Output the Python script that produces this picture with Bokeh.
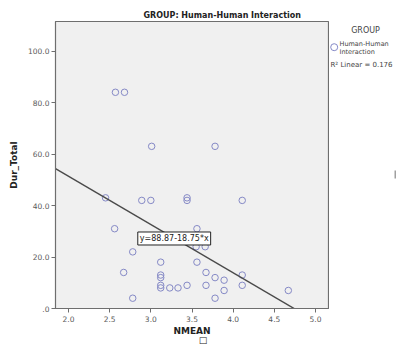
from bokeh.plotting import figure
from bokeh.models import Label, FixedTicker
from bokeh.layouts import row
from bokeh.embed import file_html
from bokeh.resources import INLINE

# ---- data ----
nmean = [2.57, 2.68, 3.01, 3.78, 2.45, 2.89, 3.00, 3.44, 3.44, 2.56,
         2.78, 2.67, 2.78, 3.12, 3.12, 3.12, 3.12, 3.12, 3.23, 3.33,
         3.44, 3.56, 3.56, 4.11, 3.55, 3.66, 3.67, 3.78, 3.89, 4.11,
         3.67, 3.89, 4.11, 3.78, 4.67]
dur_total = [84, 84, 63, 63, 43, 42, 42, 43, 42, 31,
             22, 14, 4, 18, 13, 12, 9, 8, 8, 8,
             9, 31, 18, 42, 24, 24, 14, 12, 11, 13,
             9, 7, 9, 4, 7]
intercept = 88.87
slope = -18.75
r2_linear = 0.176
x_ticks = [2.0, 2.5, 3.0, 3.5, 4.0, 4.5, 5.0]
y_ticks = [0, 20, 40, 60, 80, 100]
group_name = "Human-Human Interaction"
legend_title = "GROUP"

FONT = "DejaVu Sans"
PT_COLOR = "#8589c6"
X0, X1 = 1.842, 5.158
Y0, Y1 = 0, 111.5
TOP, BOTTOM = 21, 40

# ---------------- main plot ----------------
p = figure(width=329, height=348, x_range=(X0, X1), y_range=(Y0, Y1),
           output_backend="svg", toolbar_location=None,
           min_border_left=55, min_border_right=1,
           min_border_top=TOP, min_border_bottom=BOTTOM)
p.background_fill_color = "#f0f0f0"
p.border_fill_color = "white"
p.outline_line_color = "#6e6e6e"
p.outline_line_width = 1.2
p.xgrid.visible = False
p.ygrid.visible = False

p.title.text = "GROUP: " + group_name
p.title.text_font = FONT
p.title.text_font_size = "8px"
p.title.text_font_style = "bold"
p.title.text_color = "#222222"
p.title.align = "left"
p.title.offset = 88
p.title.standoff = 3

for ax in (p.xaxis[0], p.yaxis[0]):
    ax.axis_line_color = "#6e6e6e"
    ax.major_tick_line_color = "#6e6e6e"
    ax.major_tick_out = 4
    ax.major_tick_in = 0
    ax.minor_tick_line_color = None
    ax.major_label_text_font = FONT
    ax.major_label_text_font_size = "7.5px"
    ax.major_label_text_color = "#5a5a5a"
    ax.axis_label_text_font = FONT
    ax.axis_label_text_font_style = "bold"
    ax.axis_label_text_font_size = "9px"
    ax.axis_label_text_color = "#222222"

p.xaxis.ticker = FixedTicker(ticks=x_ticks)
p.xaxis.major_label_overrides = {t: f"{t:.1f}" for t in x_ticks}
# the second line carries the small square shown under the label
p.xaxis.axis_label = "NMEAN\n" + "\u00a0" * 7 + "\u25a1"
p.xaxis.axis_label_text_line_height = 0.95
p.xaxis.major_label_standoff = 3
p.xaxis.axis_label_standoff = 1

p.yaxis.ticker = FixedTicker(ticks=y_ticks)
p.yaxis.major_label_overrides = {t: (f"{t:.1f}" if t != 0 else ".0") for t in y_ticks}
p.yaxis.axis_label = "Dur_Total"
p.yaxis.major_label_standoff = 2
p.yaxis.axis_label_standoff = 6

p.scatter(nmean, dur_total, marker="circle", size=6.5,
          fill_color=None, line_color=PT_COLOR, line_width=1)

fx = [X0, X1]
fy = [intercept + slope * v for v in fx]
p.line(fx, fy, line_color="#4a4a4a", line_width=1.4)

eq_text = f"y={intercept:.2f}{slope:+.2f}*x"
p.add_layout(Label(x=3.284, y=27.2, text=eq_text,
                   text_font=FONT, text_font_size="8px", text_color="#222222",
                   text_align="center", text_baseline="middle",
                   background_fill_color="white", border_line_color="#222222",
                   border_line_width=1, padding=2))

# ---------------- legend panel (right) ----------------
# its frame lines up with the main frame; coordinates are page pixels
W2 = 396 - 329
q = figure(width=W2, height=348, x_range=(-1, W2 - 1),
           y_range=(348 - BOTTOM, TOP),
           output_backend="svg", toolbar_location=None,
           min_border_left=0, min_border_right=0,
           min_border_top=TOP, min_border_bottom=BOTTOM,
           outline_line_color=None, x_axis_type=None, y_axis_type=None)
q.grid.visible = False
q.background_fill_color = "white"
q.border_fill_color = "white"

q.add_layout(Label(x=35, y=30, text=legend_title, text_font=FONT,
                   text_font_size="8px", text_color="#444444",
                   text_align="center", text_baseline="middle"))
q.scatter([3.7], [46.7], marker="circle", size=7, fill_color=None,
          line_color=PT_COLOR, line_width=1)
name_lines = group_name.split(" ")
for i, line in enumerate(name_lines):
    q.add_layout(Label(x=9, y=43 + 8 * i, text=line, text_font=FONT,
                       text_font_size="6.5px", text_color="#444444",
                       text_align="left", text_baseline="middle"))
q.add_layout(Label(x=0, y=64, text=f"R\u00b2 Linear = {r2_linear:.3f}",
                   text_font=FONT, text_font_size="7px", text_color="#444444",
                   text_align="left", text_baseline="middle"))
# faint edge mark at the right border
q.quad(left=[W2 - 3], right=[W2 - 1], top=[170], bottom=[178],
       fill_color="#a0a0a0", line_color=None)

layout = row(p, q, spacing=0)
open("out.html", "w").write(file_html(layout, INLINE))
